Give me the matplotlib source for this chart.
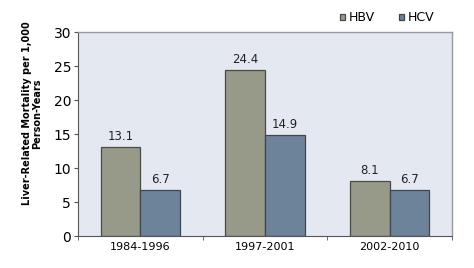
import matplotlib.pyplot as plt
import numpy as np

periods = ["1984-1996", "1997-2001", "2002-2010"]
hbv = [13.1, 24.4, 8.1]
hcv = [6.7, 14.9, 6.7]
series_names = ["HBV", "HCV"]
y_ticks = [0, 5, 10, 15, 20, 25, 30]

def main():
    fig = plt.figure(figsize=(4.74, 2.68), dpi=100)
    ax = fig.add_axes([78 / 474, 1 - 236 / 268, (452 - 78) / 474, (236 - 32) / 268])
    ax.set_facecolor("#e4e8f0")

    x = np.arange(len(periods))
    w = 0.317
    b1 = ax.bar(x - w / 2, hbv, w, color="#979a89", edgecolor="#4a4a48", linewidth=0.9, label=series_names[0])
    b2 = ax.bar(x + w / 2, hcv, w, color="#6c8399", edgecolor="#3e4650", linewidth=0.9, label=series_names[1])

    # value labels above bars
    for bars, vals in ((b1, hbv), (b2, hcv)):
        for r, v in zip(bars, vals):
            ax.text(r.get_x() + r.get_width() / 2, v + 0.6, f"{v:.1f}",
                    ha="center", va="bottom", fontsize=8.5, color="#222222")

    ax.set_xlim(-0.5, len(periods) - 0.5)
    ax.set_ylim(0, 30)
    ax.set_yticks(y_ticks)
    ax.tick_params(axis="y", labelsize=10, length=3, color="#555555", pad=2)
    ax.set_xticks(x)
    ax.set_xticklabels(periods, fontsize=8)
    ax.tick_params(axis="x", length=0, pad=4)
    # boundary tick marks on x-axis
    ax.set_xticks(np.arange(-0.5, len(periods)), minor=True)
    ax.tick_params(axis="x", which="minor", length=3, color="#555555")

    for s in ("top", "right"):
        ax.spines[s].set_color("#9a9a9a")
        ax.spines[s].set_linewidth(1.0)
    ax.spines["left"].set_color("#555555")
    ax.spines["bottom"].set_color("#555555")

    ax.set_ylabel("Liver-Related Mortality per 1,000\nPerson-Years", fontsize=7,
                  fontweight="bold", linespacing=1.0)
    ax.yaxis.set_label_coords(-0.095, 0.6)

    fig.legend(handles=[b1, b2], labels=series_names, loc="upper right",
               bbox_to_anchor=(446 / 474, 1.0), ncol=2, frameon=False,
               fontsize=9, handlelength=0.4, handleheight=0.4,
               handletextpad=0.3, columnspacing=2.0)

    fig.savefig("out.png", dpi=100)

main()
